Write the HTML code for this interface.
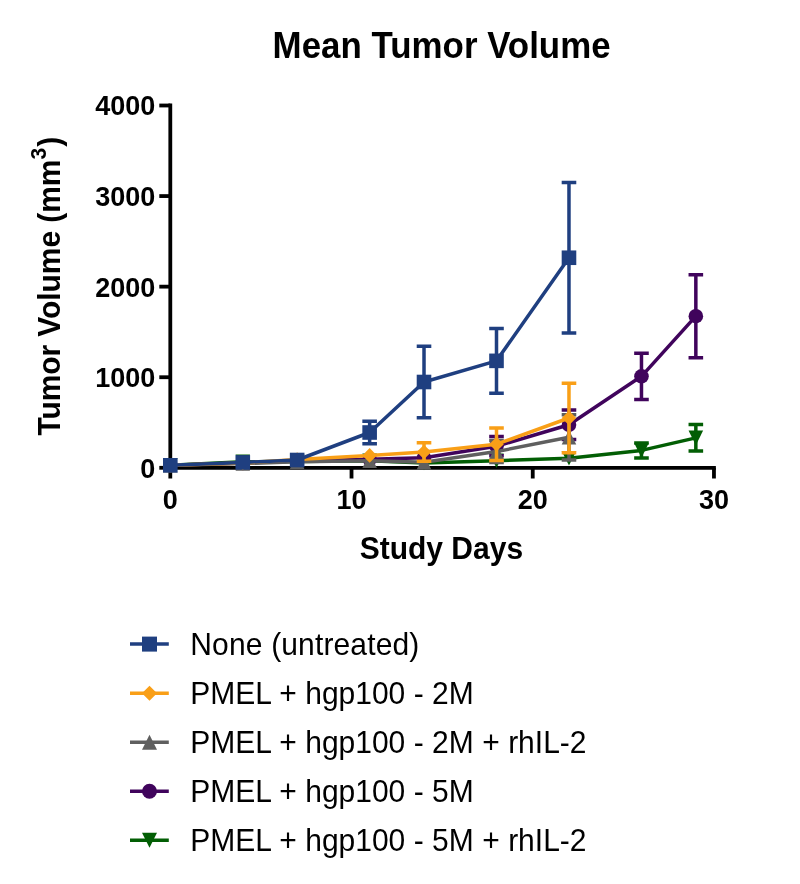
<!DOCTYPE html>
<html lang="en"><head><meta charset="utf-8"><title>Mean Tumor Volume</title>
<style>html,body{margin:0;padding:0;background:#fff}svg{display:block;will-change:transform;filter:blur(.4px)}text{font-family:"Liberation Sans",Arial,Helvetica,sans-serif;fill:#000}.b{font-weight:bold}</style></head><body>
<svg width="800" height="884" viewBox="0 0 800 884">
<rect width="800" height="884" fill="#fff"/>
<text class="b" transform="translate(441.6,57.5) scale(1,1.045)" font-size="34.9" text-anchor="middle">Mean Tumor Volume</text>
<g stroke="#000" stroke-width="3.8" fill="none" stroke-linecap="butt">
<path d="M170.30,103.60 V469.70"/>
<path d="M168.40,467.80 H715.86"/>
<path d="M159.30,467.80 H170.30"/>
<path d="M159.30,377.23 H170.30"/>
<path d="M159.30,286.65 H170.30"/>
<path d="M159.30,196.07 H170.30"/>
<path d="M159.30,105.50 H170.30"/>
<path d="M170.30,467.80 V478.50"/>
<path d="M351.52,467.80 V478.50"/>
<path d="M532.74,467.80 V478.50"/>
<path d="M713.96,467.80 V478.50"/>
</g>
<text class="b" x="155.3" y="477.70" font-size="27" text-anchor="end">0</text>
<text class="b" x="155.3" y="387.12" font-size="27" text-anchor="end">1000</text>
<text class="b" x="155.3" y="296.55" font-size="27" text-anchor="end">2000</text>
<text class="b" x="155.3" y="205.97" font-size="27" text-anchor="end">3000</text>
<text class="b" x="155.3" y="115.40" font-size="27" text-anchor="end">4000</text>
<text class="b" x="170.30" y="509" font-size="27" text-anchor="middle">0</text>
<text class="b" x="351.52" y="509" font-size="27" text-anchor="middle">10</text>
<text class="b" x="532.74" y="509" font-size="27" text-anchor="middle">20</text>
<text class="b" x="713.96" y="509" font-size="27" text-anchor="middle">30</text>
<text class="b" transform="translate(441.4,558.7) scale(1,1.04)" font-size="30" text-anchor="middle">Study Days</text>
<text class="b" transform="translate(60.2,435.6) rotate(-90) scale(1,1.04)" font-size="30"><tspan letter-spacing="-0.07">Tumor Volume (mm</tspan><tspan font-size="21" dy="-13.2">3</tspan><tspan dy="13.2" dx="1.1">)</tspan></text>
<g id="s-green">
<path d="M641.47,442.90V457.90M634.17,442.90H648.77M634.17,457.90H648.77M695.84,424.60V451.10M688.54,424.60H703.14M688.54,451.10H703.14" stroke="#025e04" stroke-width="3.5" fill="none"/>
<polyline points="170.30,465.30 242.79,461.80 297.15,461.50 369.64,460.80 424.01,463.00 496.50,460.70 568.98,458.20 641.47,450.40 695.84,437.85" stroke="#025e04" stroke-width="3.5" fill="none" stroke-linejoin="round"/>
<polygon points="170.30,472.60 177.60,458.00 163.00,458.00" fill="#025e04"/>
<polygon points="242.79,469.10 250.09,454.50 235.49,454.50" fill="#025e04"/>
<polygon points="297.15,468.80 304.45,454.20 289.85,454.20" fill="#025e04"/>
<polygon points="369.64,468.10 376.94,453.50 362.34,453.50" fill="#025e04"/>
<polygon points="424.01,470.30 431.31,455.70 416.71,455.70" fill="#025e04"/>
<polygon points="496.50,468.00 503.80,453.40 489.20,453.40" fill="#025e04"/>
<polygon points="568.98,465.50 576.28,450.90 561.68,450.90" fill="#025e04"/>
<polygon points="641.47,457.70 648.77,443.10 634.17,443.10" fill="#025e04"/>
<polygon points="695.84,445.15 703.14,430.55 688.54,430.55" fill="#025e04"/>
</g>
<g id="s-purple">
<path d="M496.50,436.60V455.80M489.20,436.60H503.80M489.20,455.80H503.80M568.98,410.00V439.60M561.68,410.00H576.28M561.68,439.60H576.28M641.47,353.20V399.40M634.17,353.20H648.77M634.17,399.40H648.77M695.84,274.70V357.70M688.54,274.70H703.14M688.54,357.70H703.14" stroke="#40045c" stroke-width="3.5" fill="none"/>
<polyline points="170.30,465.30 242.79,463.00 297.15,461.00 369.64,459.20 424.01,457.80 496.50,446.20 568.98,424.80 641.47,376.30 695.84,316.20" stroke="#40045c" stroke-width="3.5" fill="none" stroke-linejoin="round"/>
<circle cx="170.30" cy="465.30" r="7.30" fill="#40045c"/>
<circle cx="242.79" cy="463.00" r="7.30" fill="#40045c"/>
<circle cx="297.15" cy="461.00" r="7.30" fill="#40045c"/>
<circle cx="369.64" cy="459.20" r="7.30" fill="#40045c"/>
<circle cx="424.01" cy="457.80" r="7.30" fill="#40045c"/>
<circle cx="496.50" cy="446.20" r="7.30" fill="#40045c"/>
<circle cx="568.98" cy="424.80" r="7.30" fill="#40045c"/>
<circle cx="641.47" cy="376.30" r="7.30" fill="#40045c"/>
<circle cx="695.84" cy="316.20" r="7.30" fill="#40045c"/>
</g>
<g id="s-gray">
<path d="M496.50,440.60V462.60M489.20,440.60H503.80M489.20,462.60H503.80M568.98,414.70V459.90M561.68,414.70H576.28M561.68,459.90H576.28" stroke="#5f5f5f" stroke-width="3.5" fill="none"/>
<polyline points="170.30,465.30 242.79,463.50 297.15,461.70 369.64,460.80 424.01,462.30 496.50,451.60 568.98,437.30" stroke="#5f5f5f" stroke-width="3.5" fill="none" stroke-linejoin="round"/>
<polygon points="170.30,458.00 177.60,472.60 163.00,472.60" fill="#5f5f5f"/>
<polygon points="242.79,456.20 250.09,470.80 235.49,470.80" fill="#5f5f5f"/>
<polygon points="297.15,454.40 304.45,469.00 289.85,469.00" fill="#5f5f5f"/>
<polygon points="369.64,453.50 376.94,468.10 362.34,468.10" fill="#5f5f5f"/>
<polygon points="424.01,455.00 431.31,469.60 416.71,469.60" fill="#5f5f5f"/>
<polygon points="496.50,444.30 503.80,458.90 489.20,458.90" fill="#5f5f5f"/>
<polygon points="568.98,430.00 576.28,444.60 561.68,444.60" fill="#5f5f5f"/>
</g>
<g id="s-orange">
<path d="M424.01,442.70V461.30M416.71,442.70H431.31M416.71,461.30H431.31M496.50,428.00V460.40M489.20,428.00H503.80M489.20,460.40H503.80M568.98,383.30V452.70M561.68,383.30H576.28M561.68,452.70H576.28" stroke="#f99f17" stroke-width="3.5" fill="none"/>
<polyline points="170.30,465.30 242.79,463.00 297.15,459.60 369.64,455.40 424.01,452.00 496.50,444.20 568.98,418.00" stroke="#f99f17" stroke-width="3.5" fill="none" stroke-linejoin="round"/>
<polygon points="170.30,458.00 177.60,465.30 170.30,472.60 163.00,465.30" fill="#f99f17"/>
<polygon points="242.79,455.70 250.09,463.00 242.79,470.30 235.49,463.00" fill="#f99f17"/>
<polygon points="297.15,452.30 304.45,459.60 297.15,466.90 289.85,459.60" fill="#f99f17"/>
<polygon points="369.64,448.10 376.94,455.40 369.64,462.70 362.34,455.40" fill="#f99f17"/>
<polygon points="424.01,444.70 431.31,452.00 424.01,459.30 416.71,452.00" fill="#f99f17"/>
<polygon points="496.50,436.90 503.80,444.20 496.50,451.50 489.20,444.20" fill="#f99f17"/>
<polygon points="568.98,410.70 576.28,418.00 568.98,425.30 561.68,418.00" fill="#f99f17"/>
</g>
<g id="s-blue">
<path d="M369.64,421.30V443.70M362.34,421.30H376.94M362.34,443.70H376.94M424.01,346.30V417.70M416.71,346.30H431.31M416.71,417.70H431.31M496.50,328.50V393.20M489.20,328.50H503.80M489.20,393.20H503.80M568.98,182.40V333.10M561.68,182.40H576.28M561.68,333.10H576.28" stroke="#1f3f80" stroke-width="3.5" fill="none"/>
<polyline points="170.30,465.30 242.79,462.40 297.15,460.00 369.64,432.50 424.01,382.00 496.50,360.85 568.98,257.75" stroke="#1f3f80" stroke-width="3.5" fill="none" stroke-linejoin="round"/>
<rect x="163.00" y="458.00" width="14.60" height="14.60" fill="#1f3f80"/>
<rect x="235.49" y="455.10" width="14.60" height="14.60" fill="#1f3f80"/>
<rect x="289.85" y="452.70" width="14.60" height="14.60" fill="#1f3f80"/>
<rect x="362.34" y="425.20" width="14.60" height="14.60" fill="#1f3f80"/>
<rect x="416.71" y="374.70" width="14.60" height="14.60" fill="#1f3f80"/>
<rect x="489.20" y="353.55" width="14.60" height="14.60" fill="#1f3f80"/>
<rect x="561.68" y="250.45" width="14.60" height="14.60" fill="#1f3f80"/>
</g>
<path d="M130,644.10H168.8" stroke="#1f3f80" stroke-width="3.5" fill="none"/>
<rect x="142.00" y="636.60" width="15.00" height="15.00" fill="#1f3f80"/>
<text transform="translate(190.3,655.00) scale(1,1.03)" font-size="30" word-spacing="0.1" textLength="229" lengthAdjust="spacing">None (untreated)</text>
<path d="M130,693.15H168.8" stroke="#f99f17" stroke-width="3.5" fill="none"/>
<polygon points="149.50,685.65 157.00,693.15 149.50,700.65 142.00,693.15" fill="#f99f17"/>
<text transform="translate(190.3,704.05) scale(1,1.03)" font-size="30" word-spacing="0.1">PMEL + hgp100 - 2M</text>
<path d="M130,742.20H168.8" stroke="#5f5f5f" stroke-width="3.5" fill="none"/>
<polygon points="149.50,734.70 157.00,749.70 142.00,749.70" fill="#5f5f5f"/>
<text transform="translate(190.3,753.10) scale(1,1.03)" font-size="30" word-spacing="0.1">PMEL + hgp100 - 2M + rhIL-2</text>
<path d="M130,791.25H168.8" stroke="#40045c" stroke-width="3.5" fill="none"/>
<circle cx="149.50" cy="791.25" r="7.50" fill="#40045c"/>
<text transform="translate(190.3,802.15) scale(1,1.03)" font-size="30" word-spacing="0.1">PMEL + hgp100 - 5M</text>
<path d="M130,840.30H168.8" stroke="#025e04" stroke-width="3.5" fill="none"/>
<polygon points="149.50,847.80 157.00,832.80 142.00,832.80" fill="#025e04"/>
<text transform="translate(190.3,851.20) scale(1,1.03)" font-size="30" word-spacing="0.1">PMEL + hgp100 - 5M + rhIL-2</text>
</svg></body></html>
